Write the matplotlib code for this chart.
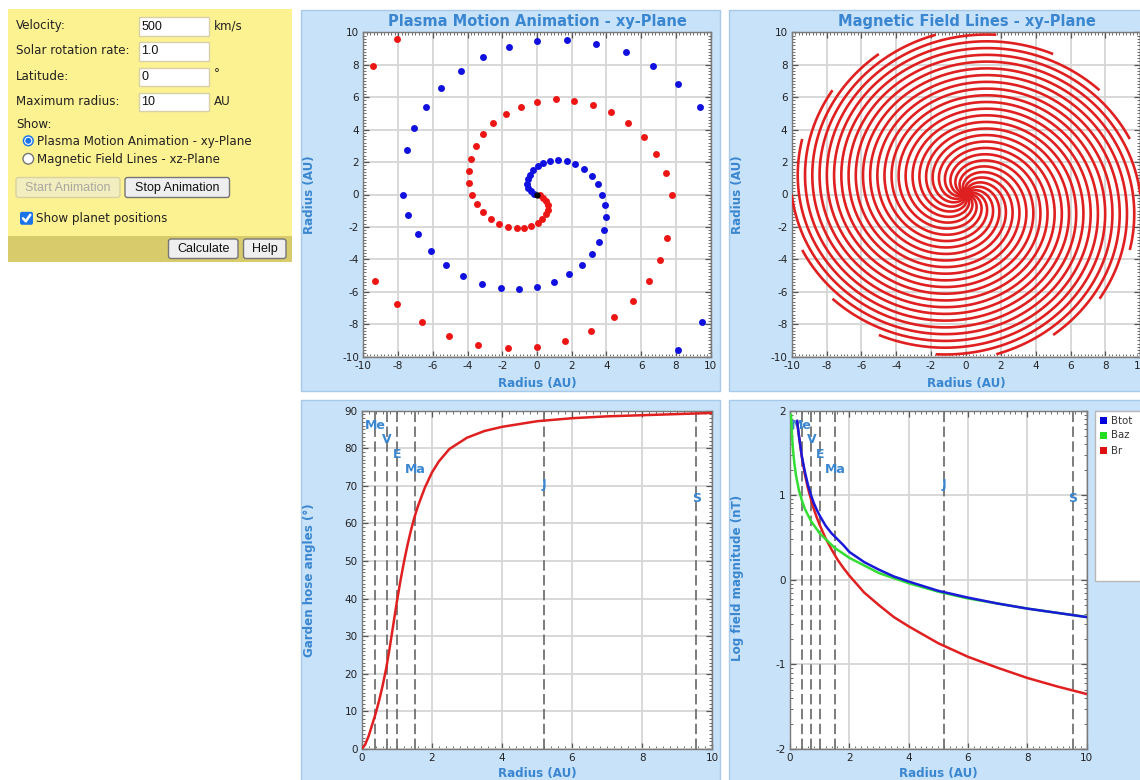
import numpy as np
import matplotlib
matplotlib.use("Agg")
import matplotlib.pyplot as plt
from matplotlib.patches import Rectangle, FancyBboxPatch, Circle
from matplotlib.ticker import MultipleLocator, FixedLocator
import matplotlib.transforms as mtransforms

plt.rcParams['font.family'] = ['DejaVu Sans']
plt.rcParams['axes.unicode_minus'] = False
plt.rcParams['lines.scale_dashes'] = False

# ---------------- form inputs ----------------
form_labels = ["Velocity:", "Solar rotation rate:", "Latitude:", "Maximum radius:"]
form_values = ["500", "1.0", "0", "10"]
form_units = ["km/s", "", "°", "AU"]
show_options = ["Plasma Motion Animation - xy-Plane", "Magnetic Field Lines - xz-Plane"]
max_radius_au = 10.0

# ---------------- planets ----------------
planet_names = ["Me", "V", "E", "Ma", "J", "S"]
planet_radius_au = [0.39, 0.72, 1.0, 1.52, 5.2, 9.54]

# ---------------- plasma parcels (AU) ----------------
blue_x = [-0.16, -0.35, -0.50, -0.58, -0.54, -0.42, -0.23, 0.04, 0.36, 0.75,
          1.23, 1.71, 2.21, 2.71, 3.15, 3.53, 3.76, 3.93, 3.97, 3.86,
          3.59, 3.17, 2.57, 1.84, 0.98, 0.02, -1.02, -2.09, -3.18, -4.24,
          -5.24, -6.10, -6.83, -7.41, -7.70, -7.46, -7.06, -6.41, -5.51, -4.39,
          -3.11, -1.59, 0.02, 1.71, 3.42, 5.10, 6.70, 8.14, 9.38, 9.48, 8.10]
blue_y = [0.06, 0.21, 0.41, 0.66, 0.93, 1.22, 1.48, 1.73, 1.94, 2.06,
          2.10, 2.05, 1.88, 1.57, 1.15, 0.64, 0.00, -0.64, -1.40, -2.16,
          -2.94, -3.68, -4.34, -4.92, -5.37, -5.68, -5.82, -5.74, -5.49, -5.02,
          -4.34, -3.50, -2.44, -1.25, 0.00, 2.72, 4.07, 5.40, 6.59, 7.62,
          8.48, 9.10, 9.47, 9.55, 9.30, 8.77, 7.93, 6.79, 5.40, -7.88, -9.57]
red_x = [0.16, 0.35, 0.52, 0.61, 0.62, 0.50, 0.30, 0.06, -0.32, -0.72,
         -1.18, -1.67, -2.17, -2.67, -3.09, -3.47, -3.72, -3.90, -3.90, -3.80,
         -3.53, -3.11, -2.52, -1.80, -0.94, 0.02, 1.08, 2.13, 3.22, 4.28,
         5.26, 6.16, 6.85, 7.41, 7.75, 7.50, 7.10, 6.45, 5.55, 4.43,
         3.11, 1.63, 0.02, -1.65, -3.38, -5.05, -6.64, -8.08, -9.33, -9.42, -8.08]
red_y = [-0.06, -0.21, -0.42, -0.67, -0.94, -1.22, -1.49, -1.76, -1.93, -2.04,
         -2.07, -2.00, -1.83, -1.52, -1.09, -0.57, 0.00, 0.72, 1.44, 2.20,
         2.96, 3.70, 4.38, 4.96, 5.41, 5.72, 5.86, 5.78, 5.54, 5.06,
         4.38, 3.52, 2.51, 1.34, 0.00, -2.67, -4.03, -5.35, -6.54, -7.57,
         -8.43, -9.05, -9.42, -9.48, -9.26, -8.72, -7.88, -6.75, -5.35, 7.93, 9.61]

# ---------------- field lines ----------------
field_end_longitude_deg = [0, 20, 40, 60, 80, 100, 120, 140, 160,
                           180, 200, 220, 240, 260, 280, 300, 320, 340]
spiral_winding_deg_per_au = 47.5

# ---------------- garden hose angle ----------------
hose_r = [0.0, 0.1, 0.2, 0.3, 0.4, 0.5, 0.6, 0.7, 0.8, 0.9, 1.0, 1.1, 1.2, 1.3,
          1.4, 1.5, 1.6, 1.8, 2.0, 2.2, 2.5, 3.0, 3.5, 4.0, 5.0, 6.0, 7.0, 8.0,
          9.0, 10.0]
hose_angle = [0.0, 1.2, 3.5, 6.5, 9.5, 13.0, 17.0, 21.5, 27.0, 33.0, 39.0, 44.5,
              49.5, 54.0, 58.0, 61.5, 64.5, 69.5, 73.5, 76.5, 79.8, 82.8, 84.6,
              85.7, 87.2, 88.0, 88.5, 88.8, 89.1, 89.4]

# ---------------- field magnitudes (log10 nT) ----------------
btot_r = [0.24, 0.3, 0.4, 0.5, 0.6, 0.7, 0.8, 0.9, 1.0, 1.2, 1.4, 1.6, 1.8, 2.0,
          2.5, 3.0, 3.5, 4.0, 5.0, 6.0, 7.0, 8.0, 9.0, 10.0]
btot_log = [1.88, 1.71, 1.46, 1.28, 1.13, 1.01, 0.91, 0.83, 0.76, 0.64, 0.55,
            0.48, 0.41, 0.33, 0.21, 0.12, 0.04, -0.02, -0.13, -0.21, -0.28,
            -0.34, -0.39, -0.44]
baz_r = [0.035, 0.05, 0.07, 0.1, 0.15, 0.2, 0.3, 0.4, 0.5, 0.7, 1.0, 1.5, 2.0,
         3.0, 4.0, 5.0, 6.0, 7.0, 8.0, 9.0, 10.0]
baz_log = [1.95, 1.84, 1.70, 1.54, 1.37, 1.24, 1.06, 0.94, 0.84, 0.70, 0.55,
           0.38, 0.26, 0.08, -0.04, -0.14, -0.22, -0.28, -0.34, -0.39, -0.44]
br_r = [0.24, 0.3, 0.4, 0.5, 0.6, 0.7, 0.8, 0.9, 1.0, 1.2, 1.4, 1.6, 1.8, 2.0,
        2.5, 3.0, 3.5, 4.0, 5.0, 6.0, 7.0, 8.0, 9.0, 10.0]
br_log = [1.87, 1.70, 1.45, 1.25, 1.09, 0.96, 0.84, 0.74, 0.65, 0.49, 0.36,
          0.24, 0.14, 0.05, -0.15, -0.30, -0.44, -0.55, -0.75, -0.91, -1.04,
          -1.16, -1.26, -1.35]
legend_labels = ["Btot", "Baz", "Br"]

# ---------------- styling ----------------
W, H = 1140, 780
TXT_BLUE = '#3a86d0'
PANEL_BG = '#c8e2fa'
PANEL_EDGE = '#a8c9ea'
YELLOW = '#fdf291'
STRIP = '#d7cb6c'
C_RED = '#e02020'
C_BLUE = '#1a1ad8'
C_GREEN = '#33dd33'
C_DOT_BLUE = '#1010e0'
C_DOT_RED = '#ee1515'

fig = plt.figure(figsize=(W / 100, H / 100), dpi=100)
fig.patch.set_facecolor('white')
bg = fig.add_axes([0, 0, 1, 1])
bg.set_xlim(0, W)
bg.set_ylim(H, 0)
bg.axis('off')


def px_axes(x0, y0, x1, y1):
    return fig.add_axes([x0 / W, 1 - y1 / H, (x1 - x0) / W, (y1 - y0) / H])


def style(ax, xmaj, xmin, ymaj, ymin=None, yminor_locs=None):
    ax.set_facecolor('white')
    ax.xaxis.set_major_locator(MultipleLocator(xmaj))
    ax.xaxis.set_minor_locator(MultipleLocator(xmin))
    ax.yaxis.set_major_locator(MultipleLocator(ymaj))
    if yminor_locs is not None:
        ax.yaxis.set_minor_locator(FixedLocator(yminor_locs))
    else:
        ax.yaxis.set_minor_locator(MultipleLocator(ymin))
    ax.tick_params(which='both', direction='in', top=True, right=True,
                   color='#555555', labelcolor='#222222', labelsize=7.5, pad=3)
    ax.tick_params(which='major', length=4.5, width=0.9)
    ax.tick_params(which='minor', length=2.2, width=0.6)
    ax.grid(True, which='major', color='#d6d6d6', lw=1.3, zorder=0)
    ax.set_axisbelow(True)
    for s in ax.spines.values():
        s.set_color('#7a7a7a')
        s.set_linewidth(1.0)


# ---------------- panels ----------------
for (x0, y0, x1, y1) in [(301, 10, 720, 391), (729, 10, 1144, 391),
                         (301, 400, 720, 784), (729, 400, 1144, 784)]:
    bg.add_patch(Rectangle((x0, y0), x1 - x0, y1 - y0, fc=PANEL_BG,
                           ec=PANEL_EDGE, lw=1.0, zorder=1))

# ---------------- control panel ----------------
bg.add_patch(Rectangle((8, 8.5), 284, 253, fc=YELLOW, ec='none', zorder=1))
bg.add_patch(Rectangle((8, 236), 284, 26, fc=STRIP, ec='none', zorder=1))
FORM_FS = 8.6
row_y = [26, 51, 76.5, 101.5]
for i, (lab, val, unit) in enumerate(zip(form_labels, form_values, form_units)):
    y = row_y[i]
    bg.text(16, y, lab, fontsize=FORM_FS, color='#222222', va='center', zorder=3)
    bg.add_patch(Rectangle((138.5, y - 9), 70, 18.5, fc='white', ec='#d8d0a8',
                           lw=1.0, zorder=2))
    bg.text(141.5, y + 0.5, val, fontsize=9, family='Liberation Sans',
            color='#111111', va='center', zorder=3)
    if unit:
        uy = y - 3 if unit == "°" else y
        bg.text(214, uy, unit, fontsize=FORM_FS, color='#222222', va='center', zorder=3)
bg.text(16, 124, "Show:", fontsize=FORM_FS, color='#222222', va='center', zorder=3)
for i, opt in enumerate(show_options):
    cy = 140.8 + 18 * i
    if i == 0:
        bg.add_patch(Circle((28.3, cy), 5.6, fc='#1a73e8', ec='none', zorder=3))
        bg.add_patch(Circle((28.3, cy), 4.1, fc='white', ec='none', zorder=3))
        bg.add_patch(Circle((28.3, cy), 3.0, fc='#1a73e8', ec='none', zorder=3))
    else:
        bg.add_patch(Circle((28.3, cy), 5.3, fc='white', ec='#767676', lw=1.0, zorder=3))
    bg.text(37, cy + 0.5, opt, fontsize=FORM_FS, color='#222222', va='center', zorder=3)

buttons = [("Start Animation", 16, 120, 177.5, 197.5, True),
           ("Stop Animation", 125, 229.5, 177.5, 197.5, False),
           ("Calculate", 168.5, 238, 239, 258.5, False),
           ("Help", 243.5, 286, 239, 258.5, False)]
for lab, x0, x1, y0, y1, disabled in buttons:
    fc = '#f3eec0' if disabled else '#efefef'
    ec = '#d9d2a0' if disabled else '#767676'
    tc = '#a8a8a0' if disabled else '#111111'
    bg.add_patch(FancyBboxPatch((x0, y0), x1 - x0, y1 - y0,
                                boxstyle='round,pad=0,rounding_size=2.5',
                                fc=fc, ec=ec, lw=1.0, zorder=3))
    bg.text((x0 + x1) / 2, (y0 + y1) / 2 + 0.5, lab, fontsize=9,
            family='Liberation Sans', color=tc, ha='center', va='center', zorder=4)

bg.add_patch(FancyBboxPatch((20, 211.8), 13, 13, boxstyle='round,pad=0,rounding_size=2',
                            fc='#1a73e8', ec='none', zorder=3))
bg.plot([23, 25.8, 30.3], [218.3, 221.3, 214.8], color='white', lw=1.8,
        solid_capstyle='round', zorder=4)
bg.text(36, 218.8, "Show planet positions", fontsize=FORM_FS, color='#222222',
        va='center', zorder=3)

# ---------------- panel titles and axis labels ----------------
LAB_FS = 8.6
bg.text(537.5, 21.5, "Plasma Motion Animation - xy-Plane", fontsize=10.5,
        fontweight='bold', color=TXT_BLUE, ha='center', va='center', zorder=3)
bg.text(966.5, 21.5, "Magnetic Field Lines - xy-Plane", fontsize=10.5,
        fontweight='bold', color=TXT_BLUE, ha='center', va='center', zorder=3)
for cx in (537.0, 966.5):
    bg.text(cx, 384, "Radius (AU)", fontsize=LAB_FS, fontweight='bold',
            color=TXT_BLUE, ha='center', va='center', zorder=3)
for cx in (537.0, 938.5):
    bg.text(cx, 773.5, "Radius (AU)", fontsize=LAB_FS, fontweight='bold',
            color=TXT_BLUE, ha='center', va='center', zorder=3)
bg.text(310, 195, "Radius (AU)", fontsize=LAB_FS, fontweight='bold', color=TXT_BLUE,
        rotation=90, ha='center', va='center', zorder=3)
bg.text(738, 195, "Radius (AU)", fontsize=LAB_FS, fontweight='bold', color=TXT_BLUE,
        rotation=90, ha='center', va='center', zorder=3)
bg.text(310, 580, "Garden hose angles (°)", fontsize=LAB_FS, fontweight='bold',
        color=TXT_BLUE, rotation=90, ha='center', va='center', zorder=3)
bg.text(738, 578, "Log field magnitude (nT)", fontsize=LAB_FS, fontweight='bold',
        color=TXT_BLUE, rotation=90, ha='center', va='center', zorder=3)

# ---------------- plasma motion ----------------
ax1 = px_axes(363.3, 32.3, 710.7, 356.7)
ax1.set_xlim(-10, 10)
ax1.set_ylim(-10, 10)
style(ax1, 2, 0.2, 2, 0.2)
ax1.plot(red_x, red_y, 'o', ms=5.0, mew=0, color=C_DOT_RED, zorder=3)
ax1.plot(blue_x, blue_y, 'o', ms=5.0, mew=0, color=C_DOT_BLUE, zorder=3)
ax1.plot([0], [0], 'o', ms=4.5, mew=0, color='black', zorder=4)

# ---------------- magnetic field lines ----------------
ax2 = px_axes(791.7, 32.3, 1140.3, 356.7)
ax2.set_xlim(-10, 10)
ax2.set_ylim(-10, 10)
style(ax2, 2, 0.2, 2, 0.2)
r_line = np.linspace(0, max_radius_au, 500)
for lon in field_end_longitude_deg:
    # Parker spiral: longitude falls behind linearly with distance from the Sun
    phi = np.radians(lon + spiral_winding_deg_per_au * (max_radius_au - r_line))
    ax2.plot(r_line * np.cos(phi), r_line * np.sin(phi), color=C_RED, lw=1.9,
             solid_capstyle='butt', zorder=3)


def planet_marks(ax):
    lab_tr = mtransforms.blended_transform_factory(ax.transData, ax.transAxes)
    for i, (name, rad) in enumerate(zip(planet_names, planet_radius_au)):
        ax.axvline(rad, color='#666666', lw=1.2, ls=(0, (7.5, 3.2)), zorder=2)
        ax.text(rad, 0.957 - 0.0436 * i, name, transform=lab_tr, fontsize=9,
                fontweight='bold', color=TXT_BLUE, ha='center', va='center', zorder=2)


# ---------------- garden hose angle ----------------
ax3 = px_axes(361.7, 410.7, 712.3, 749.0)
ax3.set_xlim(0, 10)
ax3.set_ylim(0, 90)
style(ax3, 2, 0.2, 10, 1)
planet_marks(ax3)
ax3.plot(hose_r, hose_angle, color=C_RED, lw=1.8, zorder=4)

# ---------------- field magnitude ----------------
ax4 = px_axes(790.0, 410.7, 1086.7, 749.0)
ax4.set_xlim(0, 10)
ax4.set_ylim(-2, 2)
log_minor = [d + np.log10(k) for d in (-2, -1, 0, 1) for k in range(2, 10)]
style(ax4, 2, 0.2, 1, yminor_locs=log_minor)
planet_marks(ax4)
ax4.plot(br_r, br_log, color=C_RED, lw=1.8, zorder=4)
ax4.plot(baz_r, baz_log, color=C_GREEN, lw=1.8, zorder=4)
ax4.plot(btot_r, btot_log, color=C_BLUE, lw=1.8, zorder=5)

# legend box
bg.add_patch(Rectangle((1095, 410.5), 50, 170, fc='white', ec='#b8b8b8', lw=1.0, zorder=2))
for i, (lab, col) in enumerate(zip(legend_labels, ['#0000dd', '#22dd22', '#dd1111'])):
    yy = 420.5 + 15 * i
    bg.add_patch(Rectangle((1099.5, yy - 3.5), 7, 7, fc=col, ec='none', zorder=3))
    bg.text(1110.5, yy, lab, fontsize=7.3, color='#333333', va='center', zorder=3)

fig.savefig('out.png', dpi=100, facecolor='white')
